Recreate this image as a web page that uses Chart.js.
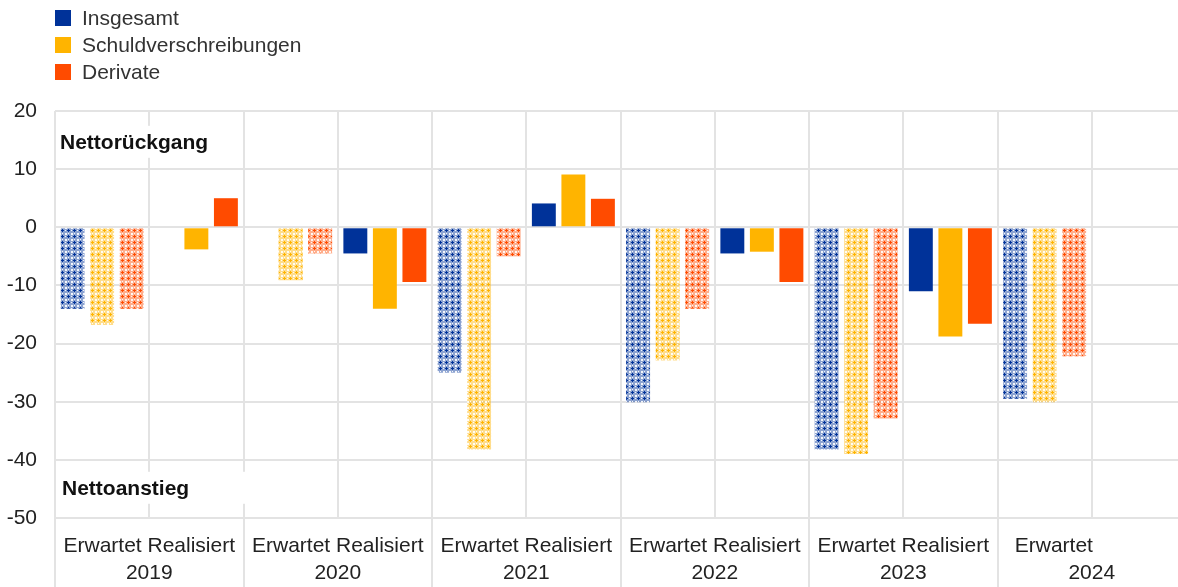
<!DOCTYPE html>
<html>
<head>
<meta charset="utf-8">
<script src="https://cdn.jsdelivr.net/npm/chart.js@4/dist/chart.umd.min.js"></script>
<style>
  html, body { margin: 0; padding: 0; background: #fff; overflow: hidden; width: 1178px; height: 587px; }
  #wrap { position: relative; width: 1188px; height: 587px; }
  #legend { position: absolute; left: 55px; top: 4px; font: 21px "Liberation Sans", Arial, sans-serif; color: #333; z-index: 2; }
  .item { display: flex; align-items: center; height: 27px; }
  .sw { width: 16px; height: 16px; margin-right: 11px; }
  canvas { position: absolute; left: 0; top: 0; }
</style>
</head>
<body>
<div id="wrap">
  <div id="legend"></div>
  <canvas id="c" width="1188" height="587" style="width:1188px;height:587px"></canvas>
</div>
<script>
// Expected vs. realised net change per year
const categories = ['Erwartet', 'Realisiert', 'Erwartet', 'Realisiert', 'Erwartet', 'Realisiert',
                    'Erwartet', 'Realisiert', 'Erwartet', 'Realisiert', 'Erwartet', 'Realisiert'];
const years = ['2019', '2020', '2021', '2022', '2023', '2024'];
const yearHeaders = ['Erwartet Realisiert', 'Erwartet Realisiert', 'Erwartet Realisiert',
                     'Erwartet Realisiert', 'Erwartet Realisiert', 'Erwartet             '];
const yTicks = [20, 10, 0, -10, -20, -30, -40, -50];

const insgesamt = [-14, null, null, -4.5, -25, 4.1, -30.1, -4.5, -38.2, -11, -29.5, null];
const schuldverschreibungen = [-16.8, -3.8, -9.1, -14, -38.2, 9.1, -22.9, -4.2, -39, -18.8, -30.1, null];
const derivate = [-14, 5, -4.5, -9.4, -5, 4.9, -14, -9.4, -32.9, -16.6, -22.2, null];

const seriesNames = ['Insgesamt', 'Schuldverschreibungen', 'Derivate'];
const seriesColors = ['#003299', '#FFB400', '#FF4B00'];

const FONT = '"Liberation Sans", Arial, sans-serif';
const GRID = '#e3e3e3';

// Small lattice tile used for the "Erwartet" bars
function makePattern(hex) {
  const t = document.createElement('canvas');
  t.width = 6; t.height = 6;
  const g = t.getContext('2d');
  const r = parseInt(hex.slice(1, 3), 16), gr = parseInt(hex.slice(3, 5), 16), b = parseInt(hex.slice(5, 7), 16);
  g.fillStyle = `rgba(${r},${gr},${b},0.45)`;
  g.fillRect(0, 0, 6, 6);
  g.fillStyle = hex;
  [[2,1],[1,2],[3,2],[2,3],[2,2]].forEach(([x, y]) => g.fillRect(x, y, 1, 1));
  g.fillStyle = 'rgba(255,255,255,0.9)';
  [[5,2],[2,5],[5,5],[5,0],[0,5],[0,0]].forEach(([x, y]) => g.fillRect(x, y, 1, 1));
  return document.getElementById('c').getContext('2d').createPattern(t, 'repeat');
}
const patterns = seriesColors.map(makePattern);

// Legend
const legend = document.getElementById('legend');
seriesNames.forEach((n, i) => {
  const it = document.createElement('div');
  it.className = 'item';
  it.innerHTML = `<span class="sw" style="background:${seriesColors[i]}"></span><span>${n}</span>`;
  legend.appendChild(it);
});

const seriesData = [insgesamt, schuldverschreibungen, derivate];
const datasets = seriesData.map((d, i) => ({
  label: seriesNames[i],
  data: d,
  backgroundColor: ctx => categories[ctx.dataIndex] === 'Erwartet' ? patterns[i] : seriesColors[i],
  borderWidth: 0,
  categoryPercentage: 0.94,
  barPercentage: 0.81
}));

// Region labels with white backing
const regionLabels = {
  id: 'regionLabels',
  beforeDatasetsDraw(chart) {
    const { ctx, chartArea, scales } = chart;
    const y = scales.y;
    const items = [
      { text: 'Nettorückgang', value: 14.7, x: chartArea.left + 5, w: 175 },
      { text: 'Nettoanstieg', value: -44.8, x: chartArea.left + 7, w: 190 }
    ];
    ctx.save();
    ctx.font = `bold 21px ${FONT}`;
    ctx.textBaseline = 'middle';
    items.forEach(it => {
      const py = y.getPixelForValue(it.value);
      ctx.fillStyle = '#fff';
      ctx.fillRect(chartArea.left + 2, py - 16, it.w, 32);
      ctx.fillStyle = '#111';
      ctx.fillText(it.text, it.x, py + 1);
    });
    ctx.restore();
  }
};

new Chart(document.getElementById('c'), {
  type: 'bar',
  data: { labels: categories, datasets },
  options: {
    responsive: false,
    animation: false,
    layout: { padding: { top: 111, right: 2, bottom: 0, left: 0 } },
    plugins: { legend: { display: false }, tooltip: { enabled: false } },
    scales: {
      x: {
        type: 'category',
        offset: true,
        grid: { offset: true, color: GRID, lineWidth: 2, drawTicks: false },
        border: { display: false },
        ticks: { display: false },
        afterFit: s => { s.height = 0; }
      },
      year: {
        type: 'category',
        position: 'bottom',
        labels: years,
        offset: true,
        grid: { offset: true, drawOnChartArea: false, drawTicks: true, tickLength: 70, color: GRID, lineWidth: 2 },
        border: { display: false },
        ticks: {
          autoSkip: false, maxRotation: 0, padding: -55,
          font: { family: FONT, size: 21, lineHeight: 1.28 },
          color: '#222',
          callback: (v, i) => [yearHeaders[i], years[i]]
        },
        afterFit: s => { s.height = 69; }
      },
      y: {
        min: -50, max: 20,
        afterBuildTicks: s => { s.ticks = yTicks.map(v => ({ value: v })); },
        grid: { color: GRID, lineWidth: 2, drawTicks: false },
        border: { display: false },
        ticks: { padding: 18, font: { family: FONT, size: 21 }, color: '#222' },
        afterFit: s => { s.width = 55; }
      }
    }
  },
  plugins: [regionLabels]
});
</script>
</body>
</html>
